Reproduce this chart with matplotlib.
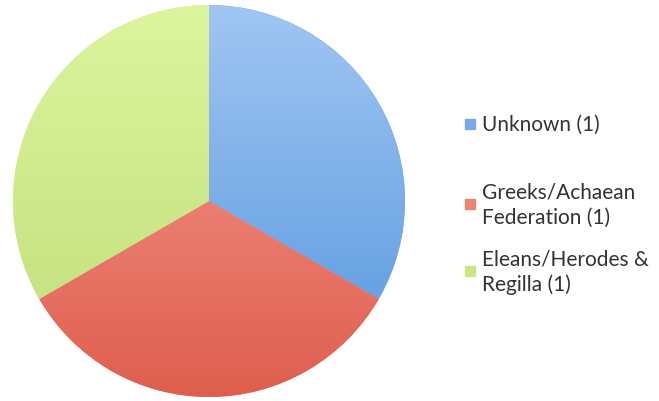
import numpy as np
import matplotlib.pyplot as plt
from matplotlib.colors import LinearSegmentedColormap
from matplotlib.patches import Rectangle

labels = ["Unknown (1)", "Greeks/Achaean\nFederation (1)", "Eleans/Herodes &\nRegilla (1)"]
values = [1, 1, 1]
colors = ["#78aae6", "#ee8276", "#cce686"]
light = ["#a0c6f3", "#f6a096", "#dcf59e"]
dark = ["#5596dd", "#df5e4e", "#c0dc78"]

fig = plt.figure(figsize=(6.59, 4.02), dpi=100)
ax = fig.add_axes([13 / 659, 4 / 402, 392 / 659, 392 / 402])

wedges, _ = ax.pie(values, colors=colors, startangle=90, counterclock=False,
                   radius=1, wedgeprops=dict(linewidth=0))
ax.set_xlim(-1, 1)
ax.set_ylim(-1, 1)
ax.set_aspect("equal")
ax.axis("off")

# vertical gradient inside each slice
grad = np.linspace(0, 1, 256).reshape(-1, 1)
for w, lo, hi in zip(wedges, light, dark):
    cmap = LinearSegmentedColormap.from_list("g", [lo, hi])
    im = ax.imshow(grad, cmap=cmap, extent=[-1, 1, -1, 1], origin="upper",
                   aspect="auto", zorder=2)
    im.set_clip_path(w)

# legend drawn by hand
leg_y = [125, 205, 272]
for lab, c, y in zip(labels, colors, leg_y):
    fig.patches.append(Rectangle((465 / 659, 1 - (y + 5) / 402), 10 / 659, 10 / 402,
                                 transform=fig.transFigure, color=c))
    fig.text(482 / 659, 1 - y / 402, lab, fontsize=15, family="Lato",
             va="center", ha="left", color="#333333", linespacing=1.3)

plt.savefig("out.png", dpi=100)
